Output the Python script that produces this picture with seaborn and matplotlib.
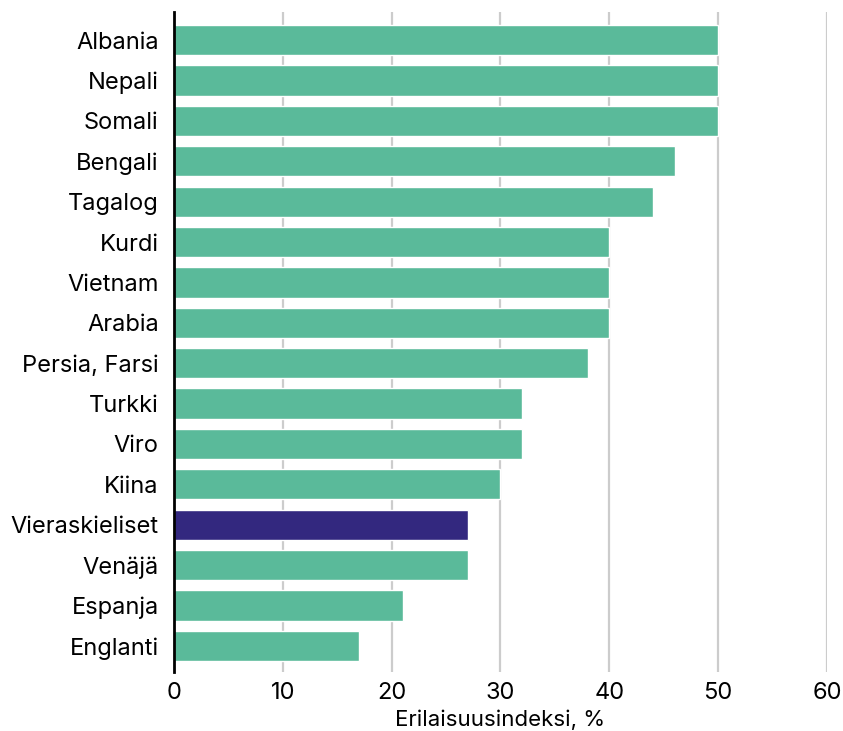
import matplotlib
matplotlib.use("Agg")
import matplotlib.pyplot as plt
import seaborn as sns
import pandas as pd

# Values
languages = ["Albania", "Nepali", "Somali", "Bengali", "Tagalog", "Kurdi", "Vietnam",
             "Arabia", "Persia, Farsi", "Turkki", "Viro", "Kiina", "Vieraskieliset",
             "Venäjä", "Espanja", "Englanti"]
index_values = [50, 50, 50, 46, 44, 40, 40, 40, 38, 32, 32, 30, 27, 27, 21, 17]
highlight = "Vieraskieliset"

df = pd.DataFrame({"kieli": languages, "indeksi": index_values})
palette = {k: ("#33287F" if k == highlight else "#5ABA9A") for k in languages}

sns.set_style("white")
plt.rcParams["font.family"] = ["Inter", "DejaVu Sans"]

fig = plt.figure(figsize=(8.43, 7.31), dpi=100)
ax = fig.add_axes([0.2064, 0.0807, 0.7746, 0.9029])

sns.barplot(data=df, y="kieli", x="indeksi", hue="kieli", palette=palette,
            order=languages, width=0.75, saturation=1, legend=False, ax=ax, zorder=3)

ax.set_xlim(0, 60)
ax.set_ylim(15.65, -0.7)
ax.set_xticks([0, 10, 20, 30, 40, 50, 60])
ax.grid(axis="x", color="#cccccc", linewidth=1.6, zorder=0)
ax.set_axisbelow(True)

for s in ["top", "right", "bottom"]:
    ax.spines[s].set_visible(False)
ax.spines["left"].set_color("black")
ax.spines["left"].set_linewidth(2)
ax.spines["left"].set_zorder(5)

ax.tick_params(axis="both", length=0, labelsize=17, colors="black")
ax.tick_params(axis="y", pad=11)
ax.tick_params(axis="x", pad=7)
ax.set_ylabel("")
ax.set_xlabel("Erilaisuusindeksi, %", fontsize=16, labelpad=4, color="black")

fig.savefig("out.png", dpi=100)
